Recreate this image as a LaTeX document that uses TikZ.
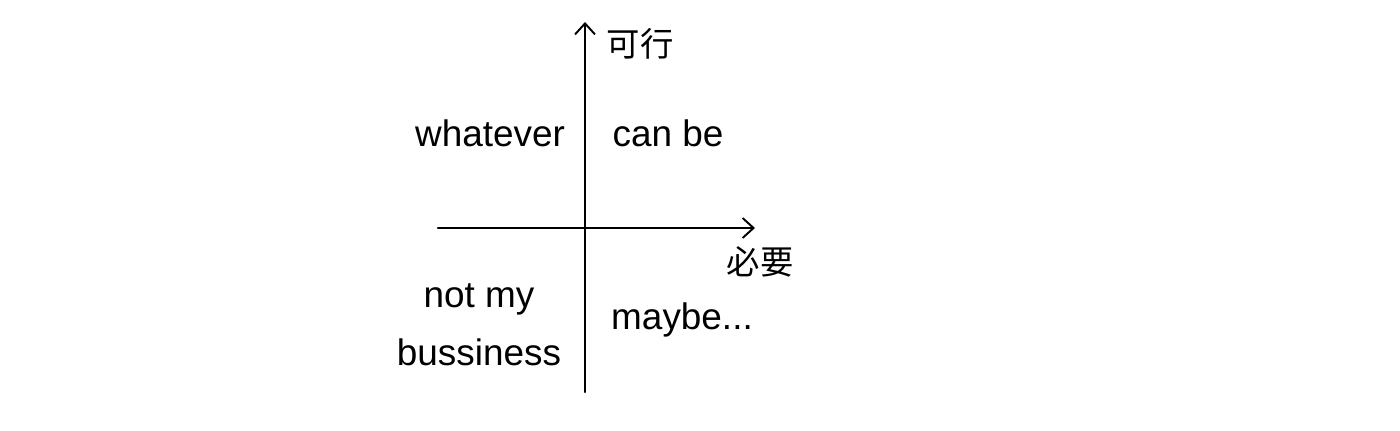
\documentclass[tikz,border=0pt]{standalone}
\usepackage{fontspec}
\setmainfont{Liberation Sans}
\newfontfamily\cjk{Noto Sans CJK SC}
\usetikzlibrary{arrows.meta, positioning}

\begin{document}
\begin{tikzpicture}[
    axis/.style={line width=1.3pt, line cap=round, -{Straight Barb[length=2.2mm, width=4mm, line width=1.1pt]}},
    quad/.style={font=\fontsize{21}{33}\selectfont, align=center, inner sep=0pt},
    axlabel/.style={font=\cjk\fontsize{19}{22}\selectfont, inner sep=0pt}
]
    \useasboundingbox (0,0) rectangle (28,8.6);

    % axes
    \coordinate (yb) at (11.7,0.76);
    \coordinate (yt) at (11.7,8.16);
    \coordinate (xl) at (8.76,4.04);
    \coordinate (xr) at (15.1,4.04);
    \draw[axis] (yb) -- (yt);
    \draw[axis] (xl) -- (xr);

    % axis labels
    \node[axlabel] (feasible) at (12.8,7.72) {可行};
    \node[axlabel] (needed) at (15.2,3.36) {必要};

    % quadrants
    \node[quad] (whatever) at (9.8,5.94) {whatever};
    \node[quad] (canbe) at (13.36,5.94) {can be};
    \node[quad] (notmine) at (9.58,2.1) {not my\\bussiness};
    \node[quad] (maybe) at (13.64,2.2) {maybe...};
\end{tikzpicture}
\end{document}
